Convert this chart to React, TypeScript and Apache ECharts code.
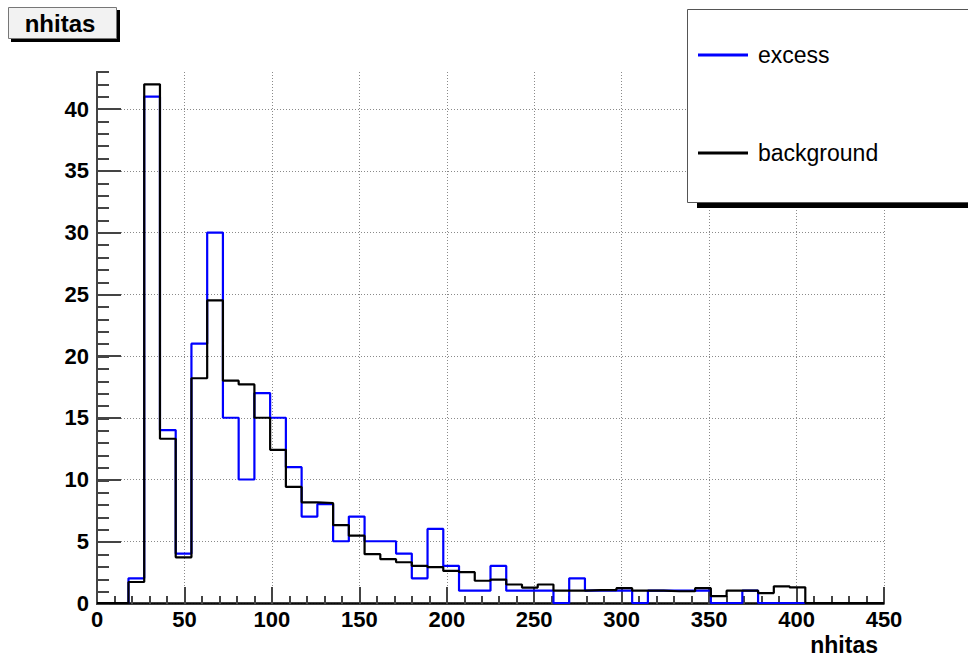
import React, { useEffect, useRef } from "react";
import * as echarts from "echarts";

// Histogram binning (nhitas), 50 bins of width 9 from 0 to 450
const binWidth = 9;
const xMin = 0;
const xMax = 450;
const yMax = 43;

// excess (blue)
const excess = [
  0, 0, 2, 41, 14, 4, 21, 30, 15, 10,
  17, 15, 11, 7, 8, 5, 7, 5, 5, 4,
  2, 6, 3, 1, 1, 3, 1, 1, 1, 0,
  2, 1, 1, 1, 0, 1, 1, 1, 1, 0,
  0, 1, 0, 0, 0, 0, 0, 0, 0, 0,
];

// background (black)
const background = [
  0, 0, 1.7, 42, 13.3, 3.7, 18.2, 24.5, 18, 17.7,
  15, 12.4, 9.4, 8.15, 8.1, 6.3, 5.45, 3.95, 3.55, 3.3,
  3.0, 2.9, 2.6, 2.5, 1.8, 1.9, 1.5, 1.25, 1.5, 1.0,
  1.0, 1.05, 1.05, 1.2, 1.0, 1.0, 0.95, 0.95, 1.2, 0.55,
  1.0, 1.0, 0.8, 1.35, 1.27, 0, 0, 0, 0, 0,
];

const yMajorTicks = [0, 5, 10, 15, 20, 25, 30, 35, 40];
const legendNames = ["excess", "background"];
const titleText = "nhitas";
const xAxisTitle = "nhitas";

const toSteps = (vals: number[]) =>
  vals
    .map((v, i) => [xMin + i * binWidth, v])
    .concat([[xMin + vals.length * binWidth, vals[vals.length - 1]]]);

const FONT = "'Liberation Sans', Arial, Helvetica, sans-serif";

export default function App() {
  const ref = useRef<HTMLDivElement>(null);
  useEffect(() => {
    if (!ref.current) return;
    const chart = echarts.init(ref.current, undefined, { renderer: "svg" });
    const gridLine = { color: "#8a8a8a", width: 1, type: [1, 2] as any };
    const gridBox = { left: 97, right: 84, top: 72, bottom: 52, containLabel: false };
    const tickStyle = { color: "#444", width: 2 };
    chart.setOption({
      animation: false,
      backgroundColor: "#ffffff",
      grid: [gridBox, gridBox],
      xAxis: [
        {
          type: "value",
          gridIndex: 0,
          min: xMin,
          max: xMax,
          interval: 50,
          name: xAxisTitle,
          nameLocation: "end",
          nameGap: -6,
          nameTextStyle: {
            fontFamily: FONT,
            fontWeight: "bold",
            fontSize: 23,
            color: "#000",
            align: "right",
            verticalAlign: "top",
            padding: [30, 0, 0, 0],
          },
          axisLine: { show: true, lineStyle: { color: "#000", width: 1.5 } },
          axisTick: { show: true, inside: true, length: 16, lineStyle: tickStyle },
          axisLabel: {
            fontFamily: FONT,
            fontWeight: "bold",
            fontSize: 22,
            color: "#000",
            margin: 5,
          },
          splitLine: { show: true, lineStyle: gridLine },
        },
        {
          // minor ticks every 10
          type: "value",
          gridIndex: 1,
          min: xMin,
          max: xMax,
          interval: 10,
          position: "bottom",
          axisLine: { show: true, lineStyle: { color: "#000", width: 1.5 } },
          axisTick: { show: true, inside: true, length: 8, lineStyle: tickStyle },
          axisLabel: { show: false },
          splitLine: { show: false },
        },
      ],
      yAxis: [
        {
          type: "value",
          gridIndex: 0,
          min: 0,
          max: yMax,
          interval: 5,
          position: "left",
          axisLine: { show: true, lineStyle: { color: "#444", width: 2 } },
          axisTick: {
            show: true,
            inside: true,
            length: 24,
            customValues: yMajorTicks,
            lineStyle: tickStyle,
          },
          axisLabel: {
            customValues: yMajorTicks,
            fontFamily: FONT,
            fontWeight: "bold",
            fontSize: 22,
            color: "#000",
            margin: 8,
          },
          splitLine: { show: true, lineStyle: gridLine },
        },
        {
          // minor ticks every 1
          type: "value",
          gridIndex: 1,
          min: 0,
          max: yMax,
          interval: 1,
          position: "left",
          axisLine: { show: true, lineStyle: { color: "#444", width: 2 } },
          axisTick: { show: true, inside: true, length: 12, lineStyle: tickStyle },
          axisLabel: { show: false },
          splitLine: { show: false },
        },
      ],
      legend: {
        data: legendNames,
        orient: "vertical",
        left: 693,
        top: 38,
        itemWidth: 50,
        itemHeight: 3,
        itemGap: 74,
        icon: "rect",
        z: 6,
        textStyle: {
          fontFamily: FONT,
          fontSize: 23,
          color: "#000",
          lineHeight: 24,
          padding: [0, 0, 0, 5],
        },
      },
      graphic: [
        // legend box + shadow
        { type: "rect", z: 5, shape: { x: 697, y: 203, width: 300, height: 5 }, style: { fill: "#000" } },
        {
          type: "rect",
          z: 5,
          shape: { x: 687.5, y: 9.5, width: 300, height: 193 },
          style: { fill: "#fff", stroke: "#555", lineWidth: 1 },
        },
        // title box + shadow
        { type: "rect", z: 5, shape: { x: 11, y: 10, width: 109, height: 32 }, style: { fill: "#000" } },
        {
          type: "rect",
          z: 5,
          shape: { x: 8.5, y: 7.5, width: 108, height: 31 },
          style: { fill: "#f2f2f2", stroke: "#777", lineWidth: 1 },
        },
        {
          type: "text",
          z: 6,
          x: 60,
          y: 23,
          style: {
            text: titleText,
            fontFamily: FONT,
            fontWeight: "bold",
            fontSize: 24,
            fill: "#000",
            align: "center",
            verticalAlign: "middle",
          },
        },
      ],
      series: [
        {
          name: legendNames[0],
          type: "line",
          xAxisIndex: 0,
          yAxisIndex: 0,
          step: "end",
          symbol: "none",
          data: toSteps(excess),
          lineStyle: { color: "#0000ff", width: 2.2 },
          itemStyle: { color: "#0000ff" },
          z: 2,
        },
        {
          name: legendNames[1],
          type: "line",
          xAxisIndex: 0,
          yAxisIndex: 0,
          step: "end",
          symbol: "none",
          data: toSteps(background),
          lineStyle: { color: "#000000", width: 2.2 },
          itemStyle: { color: "#000000" },
          z: 3,
        },
      ],
    });
    return () => chart.dispose();
  }, []);
  return (
    <div
      ref={ref}
      style={{ position: "fixed", left: 0, top: 0, width: 968, height: 656, background: "#fff" }}
    />
  );
}
